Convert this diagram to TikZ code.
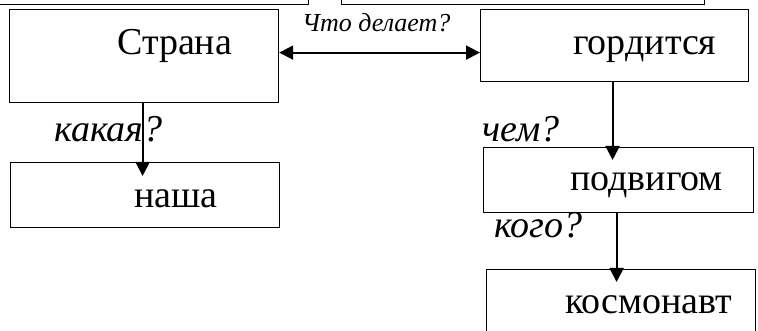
\documentclass[tikz,border=0pt]{standalone}
\usepackage{fontspec}
\setmainfont{Liberation Serif}
\usetikzlibrary{arrows.meta,calc}
\begin{document}
\begin{tikzpicture}[x=1pt,y=-1pt,
  box/.style={draw, line width=1.2pt, anchor=north west, inner sep=0pt},
  word/.style={anchor=base west, inner sep=0pt, font=\fontsize{38}{42}\selectfont},
  ask/.style={anchor=base west, inner sep=0pt, font=\fontsize{38}{42}\selectfont\itshape},
  small/.style={anchor=base west, inner sep=0pt, font=\fontsize{26}{29}\selectfont\itshape},
  tip/.tip={Triangle[length=14pt,width=14pt]},
  arr/.style={line width=2pt, -tip}]
\useasboundingbox (0,0) rectangle (758,331);
\clip (0,0) rectangle (758,331);
% partial boxes at top
\node[box, minimum width=318pt, minimum height=34pt] (topl) at (-10,-30) {};
\node[box, minimum width=363pt, minimum height=34pt] (topr) at (341,-30) {};
% boxes
\node[box, minimum width=269pt, minimum height=93pt] (strana) at (9,9) {};
\node[box, minimum width=268pt, minimum height=72pt] (gord) at (480,9) {};
\node[box, minimum width=269pt, minimum height=65pt] (nasha) at (10,162) {};
\node[box, minimum width=270pt, minimum height=65pt] (podv) at (483,147) {};
\node[box, minimum width=269pt, minimum height=80pt] (kosm) at (486,269) {};
% texts
\node[word] (t1) at (117,55) {Страна};
\node[word] (t2) at (573,55) {гордится};
\node[word] (t3) at (134,208) {наша};
\node[word] (t4) at (570,191) {подвигом};
\node[word] (t5) at (565,313) {космонавт};
\node[ask] (q1) at (54,142) {какая?};
\node[ask] (q2) at (482,142) {чем?};
\node[ask] (q3) at (494,238) {кого?};
\node[small] (q0) at (302,32) {Что делает?};
% connectors
\draw[arr, tip-tip] ([yshift=3.5pt]strana.east) -- ([yshift=3.5pt]strana.east -| gord.west);
\draw[arr, shorten >=-14pt] ([xshift=-1.5pt]strana.south) -- ([xshift=-1.5pt]strana.south |- nasha.north);
\draw[arr, shorten >=-13pt] ([xshift=-2pt]gord.south) -- ([xshift=-2pt]gord.south |- podv.north);
\draw[arr, shorten >=-13pt] ([xshift=-2pt]podv.south) -- ([xshift=-2pt]podv.south |- kosm.north);
\end{tikzpicture}
\end{document}
